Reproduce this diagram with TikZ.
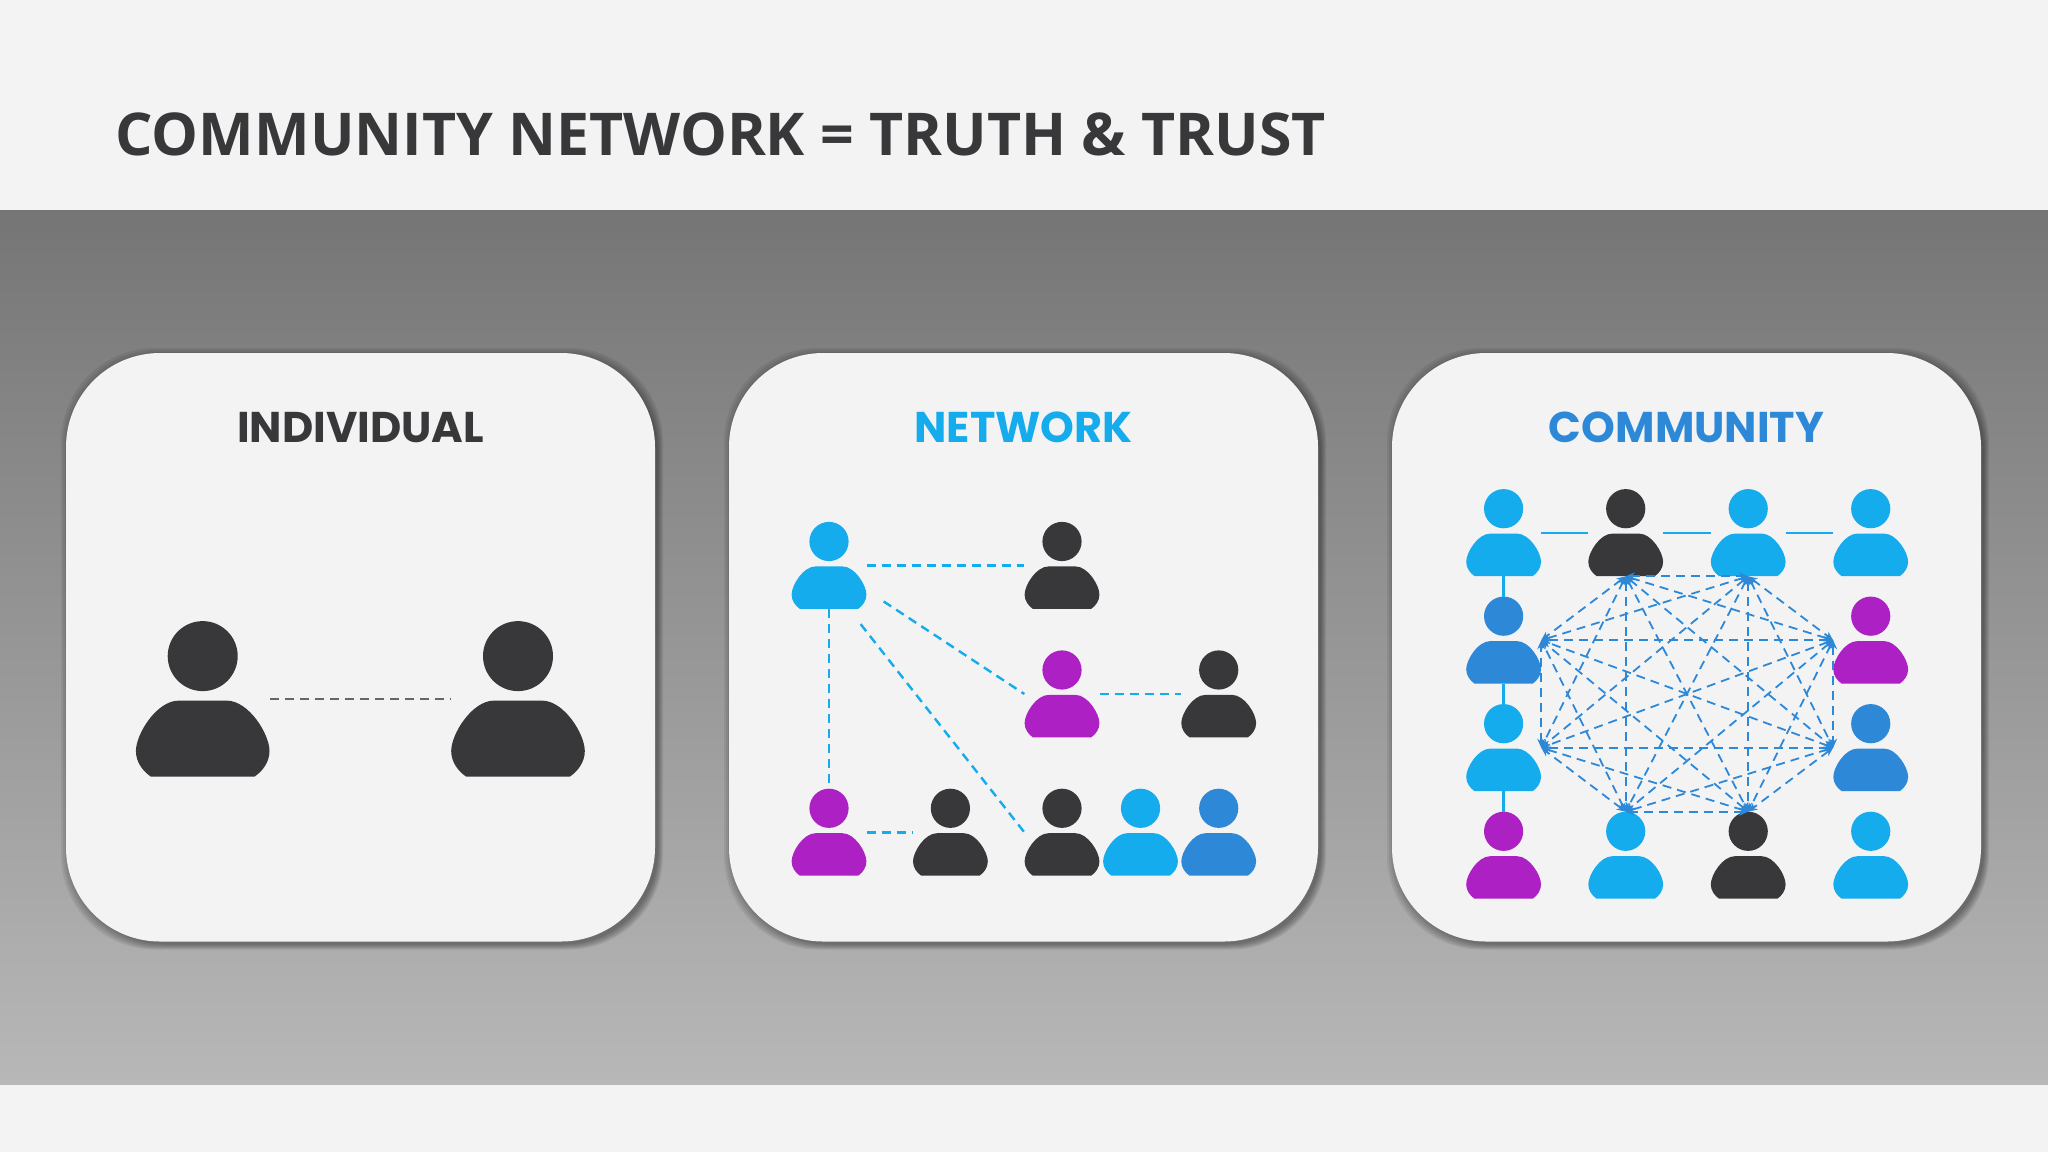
\documentclass[tikz,border=0pt]{standalone}
\usepackage{fontspec}
\setmainfont{Open Sans}
\newfontfamily\cardfont{Poppins}
\usetikzlibrary{
  arrows.meta,
  positioning,
  calc
}
\definecolor{pagegrey}{HTML}{F3F3F4}
\definecolor{inkdark}{HTML}{38383A}
\definecolor{icocyan}{HTML}{14ACEC}
\definecolor{icoblue}{HTML}{2D88D8}
\definecolor{icopurple}{HTML}{AC20C4}
\tikzset{
  personbox/.style={inner sep=0pt,minimum width=66.8pt,minimum height=77.5pt,transform shape},
  card/.style={fill=pagegrey,rounded corners=47pt},
  cardtitle/.style={font=\cardfont\bfseries\fontsize{21.5}{24}\selectfont,anchor=base},
  talk/.style={dash pattern=on 4.5pt off 3pt},
  talkgrey/.style={talk,draw=black!60,line width=0.7pt},
  talkcyan/.style={talk,draw=icocyan,line width=1.2pt},
  linkcyan/.style={draw=icocyan,line width=1.2pt},
  mesh/.style={talk,draw=icoblue,line width=0.9pt,
    {Stealth[length=4.5pt,width=4pt]}-{Stealth[length=4.5pt,width=4pt]}}
}
% one person: name, x, y, scale, colour
\newcommand{\person}[5]{
  \begin{scope}[shift={(#2,#3)},scale=#4]
    \fill[#5] (0,-42.9) circle[radius=35];
    \fill[#5] (-24,1.6) -- (24,1.6) .. controls (46,1.6) and (66.8,35) .. (66.8,52)
      .. controls (66.8,63) and (60,72) .. (52,77.5) -- (-52,77.5)
      .. controls (-60,72) and (-66.8,63) .. (-66.8,52)
      .. controls (-66.8,35) and (-46,1.6) .. (-24,1.6) -- cycle;
    \node[personbox] (#1) at (0,0) {};
  \end{scope}
}
\newcommand{\cardpanel}[2]{
  % soft shadow, then the panel
  \foreach \s in {1,...,6}{
    \fill[black,opacity=0.07,rounded corners=47pt]
      (#1-7+\s*2,353-7+\s*2) rectangle (#1+589+9-\s,941.5+9-\s);
  }
  \fill[card] (#1,353) rectangle (#1+589,941.5);
  \coordinate (#2) at (#1+294.5,442);
}
\begin{document}
\begin{tikzpicture}[x=0.5pt,y=-0.5pt]
\useasboundingbox (0,0) rectangle (2048,1152);
\fill[pagegrey] (0,0) rectangle (2048,1152);
\shade[top color=black!54,bottom color=black!28] (0,210) rectangle (2048,1084);
\node[font=\bfseries\fontsize{29.5}{32}\selectfont,text=inkdark,anchor=base west,inner sep=0pt]
  (heading) at (115,155) {COMMUNITY NETWORK = TRUTH \& TRUST};

% the three panels
\cardpanel{66}{ptone}
\cardpanel{729}{pttwo}
\cardpanel{1392}{ptthree}
\node[cardtitle,text=inkdark,inner sep=0pt] (tone) at (ptone) {INDIVIDUAL};
\node[cardtitle,text=icocyan,inner sep=0pt] (ttwo) at (pttwo) {NETWORK};
\node[cardtitle,text=icoblue,inner sep=0pt] (tthree) at (ptthree) {COMMUNITY};

% Individual
\person{aone}{202.7}{699}{1}{inkdark}
\person{atwo}{518}{699}{1}{inkdark}
\draw[talkgrey] (aone.east) -- (atwo.west);

% Network
\person{none}{829}{565.5}{.56}{icocyan}
\person{ntwo}{1062}{565.5}{.56}{inkdark}
\person{nthree}{1062}{694}{.56}{icopurple}
\person{nfour}{1218.7}{694}{.56}{inkdark}
\person{nfive}{829}{832.3}{.56}{icopurple}
\person{nsix}{950.4}{832.3}{.56}{inkdark}
\person{nseven}{1062}{832.3}{.56}{inkdark}
\person{neight}{1140.5}{832.3}{.56}{icocyan}
\person{nnine}{1218.7}{832.3}{.56}{icoblue}
\coordinate (nout) at ($(none.south east)+(17,-7.7)$);
\coordinate (ndown) at ($(none.south east)+(-6,15)$);
\coordinate (nlow) at ($(nfive.north)+(0,-6)$);
\draw[talkcyan] (none.east) -- (ntwo.west);
\draw[talkcyan] (nout) -- (nthree.west);
\draw[talkcyan] (ndown) -- (nseven.west);
\draw[talkcyan] (none.south) -- (nlow);
\draw[talkcyan] (nthree.east) -- (nfour.west);
\draw[talkcyan] (nfive.east) -- (nsix.west);

% Community
\foreach \nm/\cx/\cy/\cc in {
  caa/1503.6/532.7/icocyan, cab/1625.7/532.7/inkdark, cac/1748.2/532.7/icocyan, cad/1870.7/532.7/icocyan,
  cba/1503.6/640.2/icoblue, cbd/1870.7/640.2/icopurple,
  cca/1503.6/747.7/icocyan, ccd/1870.7/747.7/icoblue,
  cda/1503.6/855.3/icopurple, cdb/1625.7/855.3/icocyan, cdc/1748.2/855.3/inkdark, cdd/1870.7/855.3/icocyan}{
  \person{\nm}{\cx}{\cy}{.56}{\cc}
}
\draw[linkcyan] (caa.east) -- (cab.west);
\draw[linkcyan] (cab.east) -- (cac.west);
\draw[linkcyan] (cac.east) -- (cad.west);
\draw[linkcyan] (caa.south) -- (cba.north);
\draw[linkcyan] (cba.south) -- (cca.north);
\draw[linkcyan] (cca.south) -- (cda.north);
% every pair of the eight inner people
\foreach \a [count=\i] in {cab.south,cac.south,cbd.west,ccd.west,cdc.north,cdb.north,cca.east,cba.east}{
  \foreach \b [count=\j] in {cab.south,cac.south,cbd.west,ccd.west,cdc.north,cdb.north,cca.east,cba.east}{
    \ifnum\j>\i
      \draw[mesh] (\a) -- (\b);
    \fi
  }
}
\end{tikzpicture}
\end{document}
